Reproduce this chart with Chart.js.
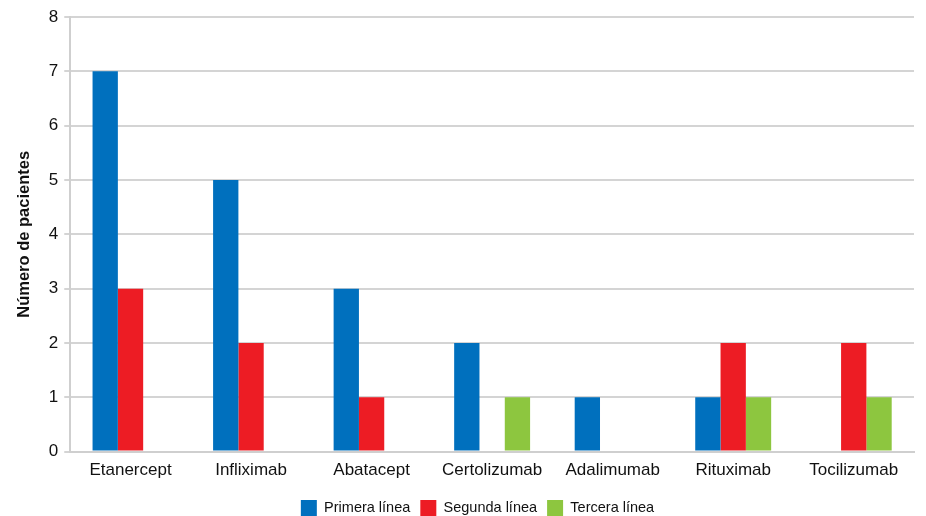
<!DOCTYPE html>
<html>
<head>
<meta charset="utf-8">
<script src="https://cdn.jsdelivr.net/npm/chart.js@4/dist/chart.umd.min.js"></script>
<style>
  html, body { margin: 0; padding: 0; background: #fff; }
  #wrap { width: 926px; height: 516px; }
</style>
</head>
<body>
<div id="wrap"><canvas id="chart"></canvas></div>
<script>
const farmacos = ['Etanercept', 'Infliximab', 'Abatacept', 'Certolizumab', 'Adalimumab', 'Rituximab', 'Tocilizumab'];
const primeraLinea = [7, 5, 3, 2, 1, 1, 0];
const segundaLinea = [3, 2, 1, 0, 0, 2, 2];
const terceraLinea = [0, 0, 0, 1, 0, 1, 1];

Chart.defaults.font.family = '"Liberation Sans", Arial, Helvetica, sans-serif';
Chart.defaults.color = '#111';

// legend sits tight against the bottom edge and a bit right of the canvas centre
const tightLegend = {
    id: 'tightLegend',
    beforeInit(chart) {
        const legend = chart.legend;
        const fit = legend.fit;
        const draw = legend.draw;
        legend.fit = function() {
            fit.call(this);
            this.height -= 10;
        };
        legend.draw = function() {
            const ctx = this.ctx;
            ctx.save();
            ctx.translate(15, 0);
            draw.call(this);
            ctx.restore();
        };
    }
};

new Chart(document.getElementById('chart').getContext('2d'), {
    type: 'bar',
    data: {
        labels: farmacos,
        datasets: [
            { label: 'Primera línea', data: primeraLinea, backgroundColor: '#0070BE' },
            { label: 'Segunda línea', data: segundaLinea, backgroundColor: '#ED1C24' },
            { label: 'Tercera línea', data: terceraLinea, backgroundColor: '#8DC63F' }
        ]
    },
    options: {
        responsive: true,
        maintainAspectRatio: false,
        animation: false,
        layout: { padding: { top: 17, right: 12, left: 11, bottom: 0 } },
        datasets: {
            bar: { categoryPercentage: 0.63, barPercentage: 1.0 }
        },
        scales: {
            x: {
                grid: { display: false, drawTicks: false },
                border: { color: '#cfcfcf', width: 2 },
                ticks: { font: { size: 17 }, padding: 9, color: '#111' }
            },
            y: {
                min: 0,
                max: 8,
                ticks: { stepSize: 1, font: { size: 17 }, padding: 6, color: '#111' },
                grid: { color: '#d4d4d4', lineWidth: 2, tickLength: 6 },
                border: { color: '#cfcfcf', width: 2 },
                title: {
                    display: true,
                    text: 'Número de pacientes',
                    font: { size: 16.5, weight: 'bold' },
                    color: '#111',
                    padding: { bottom: 8 }
                }
            }
        },
        plugins: {
            legend: {
                position: 'bottom',
                labels: {
                    boxWidth: 16,
                    boxHeight: 16,
                    padding: 10,
                    font: { size: 14.5 },
                    color: '#111'
                }
            },
            tooltip: { enabled: false }
        }
    },
    plugins: [tightLegend]
});
</script>
</body>
</html>
